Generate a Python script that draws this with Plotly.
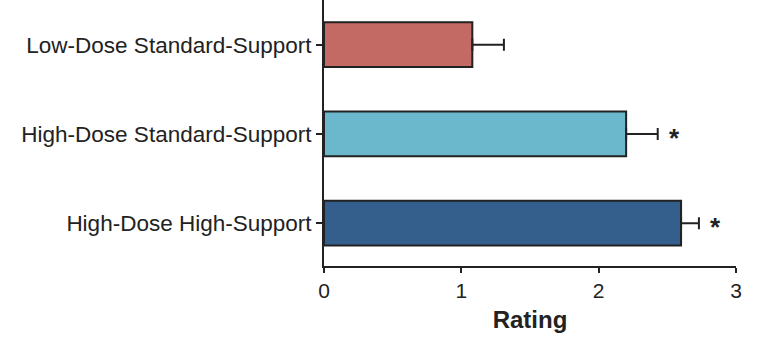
import plotly.graph_objects as go

# Group labels, mean ratings, error-bar half widths and significance markers
groups = ["Low-Dose Standard-Support", "High-Dose Standard-Support", "High-Dose High-Support"]
ratings = [1.08, 2.20, 2.60]
errors = [0.23, 0.23, 0.13]
significance = ["", "*", "*"]
bar_colors = ["#C46A65", "#6BB8CC", "#345F8C"]
x_ticks = [0, 1, 2, 3]

FONT = "Liberation Sans, Arial, Helvetica, sans-serif"
INK = "#222222"

fig = go.Figure()
fig.add_trace(go.Bar(
    y=groups,
    x=ratings,
    orientation="h",
    width=0.5,
    marker=dict(color=bar_colors, line=dict(color=INK, width=2)),
    error_x=dict(type="data", array=errors, symmetric=False, arrayminus=[0] * len(errors),
                 color=INK, thickness=2, width=6),
    showlegend=False,
))

for g, r, e, s in zip(groups, ratings, errors, significance):
    if s:
        fig.add_annotation(
            x=r + e, y=g, xref="x", yref="y", text="<b>" + s + "</b>",
            showarrow=False, xanchor="left", yanchor="middle", xshift=9, yshift=-4,
            font=dict(family=FONT, size=26, color=INK),
        )

fig.update_layout(
    width=772, height=338,
    margin=dict(l=324, r=36, t=0, b=72),
    plot_bgcolor="white", paper_bgcolor="white",
    font=dict(family=FONT, color=INK),
    bargap=0.5,
)
fig.update_xaxes(
    range=[0, 3], tickvals=x_ticks, ticks="outside", ticklen=5, tickwidth=2, tickcolor=INK,
    showline=True, linecolor=INK, linewidth=2, showgrid=False, zeroline=False,
    tickfont=dict(size=21, color=INK),
    title=dict(text="<b>Rating</b>", font=dict(size=24, color=INK), standoff=10),
)
fig.update_yaxes(
    categoryorder="array", categoryarray=groups,
    range=[2.48, -0.5], ticks="outside", ticklen=6, tickwidth=2, tickcolor=INK,
    showline=True, linecolor=INK, linewidth=2, showgrid=False, zeroline=False,
    tickfont=dict(size=22.5, color=INK), ticklabelstandoff=0,
)

fig.write_html("out.html")
